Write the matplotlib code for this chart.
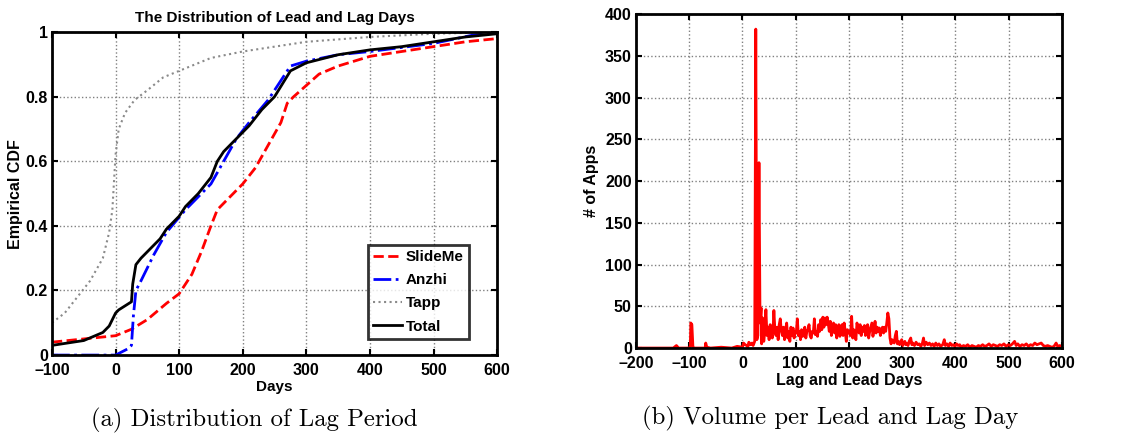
""" Lead / lag days: CDF per market and daily volume """

import numpy as np
import matplotlib.pyplot as plt

plt.rcParams['font.family'] = ['Liberation Sans', 'DejaVu Sans']
plt.rcParams['font.weight'] = 'bold'
plt.rcParams['axes.labelweight'] = 'bold'


##############################################################################
##                                   Data                                   ##
##############################################################################

# Empirical CDF per market (days, cdf)
slideme_x = [-100, -50, 0, 25, 50, 80, 100, 120, 135, 150, 160, 180, 200, 220,
             240, 260, 270, 280, 300, 320, 350, 400, 450, 500, 550, 600]
slideme_y = [0.04, 0.05, 0.06, 0.08, 0.11, 0.16, 0.19, 0.25, 0.32, 0.40, 0.45,
             0.49, 0.53, 0.58, 0.65, 0.72, 0.78, 0.80, 0.835, 0.87, 0.895,
             0.925, 0.94, 0.955, 0.97, 0.98]

anzhi_x = [-100, 0, 20, 25, 28, 32, 40, 60, 80, 110, 150, 170, 190, 210, 240,
           260, 275, 300, 350, 400, 500, 560, 600]
anzhi_y = [0.0, 0.0, 0.02, 0.03, 0.12, 0.20, 0.23, 0.31, 0.38, 0.45, 0.53,
           0.60, 0.67, 0.72, 0.79, 0.85, 0.895, 0.91, 0.93, 0.94, 0.965,
           0.99, 1.0]

tapp_x = [-100, -80, -60, -40, -20, -10, -5, 0, 5, 15, 30, 50, 75, 100, 150,
          200, 250, 300, 400, 500, 600]
tapp_y = [0.10, 0.13, 0.18, 0.23, 0.30, 0.38, 0.45, 0.62, 0.70, 0.75, 0.79,
          0.82, 0.86, 0.88, 0.92, 0.94, 0.955, 0.97, 0.985, 0.995, 1.0]

total_x = [-100, -50, -20, -10, 0, 5, 25, 27, 32, 40, 50, 70, 80, 100, 110,
           130, 150, 160, 170, 190, 210, 230, 250, 275, 300, 350, 400, 450,
           500, 550, 600]
total_y = [0.03, 0.045, 0.07, 0.09, 0.13, 0.14, 0.165, 0.22, 0.28, 0.30, 0.32,
           0.36, 0.39, 0.43, 0.46, 0.50, 0.55, 0.60, 0.63, 0.67, 0.71, 0.76,
           0.80, 0.88, 0.905, 0.93, 0.945, 0.955, 0.97, 0.985, 0.995]

# Number of apps per lag/lead day
vol_days = [-200, -130, -124, -120, -100, -98, -97, -95, -93, -90, -70, -69,
            -67, -60, -40, -20, -10, 0, 2, 5, 8, 10, 12, 15, 18, 20, 23, 25,
            27, 29, 31, 33, 35, 36, 38, 40, 42, 44, 46, 48, 50, 52, 54, 56,
            58, 59, 61, 63, 65, 67, 69, 71, 73, 75, 77, 79, 81, 83, 85, 87,
            89, 91, 93, 95, 97, 99, 101, 103, 105, 107, 109, 111, 113, 115,
            117, 119, 121, 123, 125, 127, 129, 131, 133, 135, 137, 139, 141,
            143, 145, 147, 149, 151, 153, 155, 157, 159, 161, 163, 165, 167,
            169, 171, 173, 175, 177, 179, 181, 183, 185, 187, 189, 191, 193,
            195, 197, 199, 201, 203, 205, 207, 209, 211, 213, 215, 217, 219,
            221, 223, 225, 227, 229, 231, 233, 235, 237, 239, 241, 243, 245,
            247, 249, 251, 253, 255, 257, 259, 261, 263, 265, 267, 269, 271,
            273, 275, 277, 279, 281, 283, 285, 287, 289, 291, 293, 295, 297,
            299, 301, 303, 305, 307, 309, 311, 313, 316, 318, 320, 323, 326,
            329, 332, 335, 338, 340, 342, 345, 348, 351, 354, 357, 360, 363,
            366, 369, 372, 376, 379, 381, 384, 387, 390, 393, 396, 399, 402,
            405, 408, 411, 415, 419, 423, 427, 431, 435, 439, 443, 447, 451,
            455, 459, 463, 467, 471, 475, 479, 483, 487, 491, 495, 499, 503,
            507, 511, 514, 517, 521, 525, 529, 533, 537, 541, 545, 549, 553,
            557, 561, 565, 569, 573, 577, 581, 585, 589, 592, 596, 600]
vol_apps = [0, 0, 3, 0, 0, 2, 30, 28, 1, 0, 0, 6,
            1, 0, 1, 0, 2, 1, 6, 4, 3, 1, 7, 4, 6, 3, 8, 382,
            10, 15, 222, 30, 48, 5, 36, 8, 20, 46, 15, 25, 10, 28, 18, 12,
            30, 45, 20, 15, 25, 10, 28, 35, 20, 15, 25, 10, 22, 30, 12, 20,
            8, 25, 15, 24, 12, 20, 18, 35, 15, 20, 10, 22, 14, 18,
            25, 12, 20, 22, 28, 15, 12, 20, 18, 35, 16, 20, 14,
            28, 20, 34, 22, 37, 25, 36, 28, 37, 30, 20, 32, 15,
            25, 30, 18, 28, 12, 22, 28, 14, 25, 28, 15, 30, 20,
            8, 22, 18, 20, 15, 38, 12, 22, 18, 10, 30, 25, 18,
            28, 15, 25, 20, 27, 15, 22, 28, 12, 20, 25, 30, 14,
            22, 32, 18, 25, 20, 24, 15, 22, 25, 18, 25, 20, 30,
            42, 35, 12, 5, 10, 8, 6, 15, 20, 5, 8, 4, 7,
            10, 3, 6, 8, 4, 5, 3, 8, 12, 4, 6, 3, 7,
            4, 5, 2, 6, 12, 3, 7, 4, 6, 3, 5, 2, 6,
            3, 5, 2, 4, 10, 3, 5, 2, 6, 3, 4, 2, 5,
            3, 4, 1, 3, 2, 4, 1, 3, 2, 1, 3, 2, 4,
            2, 3, 5, 2, 4, 3, 2, 4, 3, 5, 2, 4, 3,
            5, 8, 3, 5, 2, 4, 3, 5, 2, 4, 3, 6, 4,
            5, 6, 3, 2, 3, 2, 1, 2, 6, 2, 3, 1]

##############################################################################



##############################################################################
##                                  Figure                                  ##
##############################################################################

def style_axis(axis):
    """ MATLAB-like look: dotted grid, inward ticks on all sides, thick box """
    axis.grid(True, linestyle=':', color='#808080', linewidth=1.0)
    axis.tick_params(direction='in', top=True, right=True, length=4,
                     width=1.5, labelsize=11.5, pad=3)
    axis.tick_params(axis='x', pad=6)
    for spine in axis.spines.values():
        spine.set_linewidth(2.0)
    for label in axis.get_xticklabels() + axis.get_yticklabels():
        label.set_fontweight('bold')

fig = plt.figure(figsize=(11.27, 4.40), dpi=100)
ax_cdf = fig.add_axes([0.0461, 0.193, 0.395, 0.734])
ax_vol = fig.add_axes([0.5643, 0.209, 0.378, 0.759])

# (a) Empirical CDF
ax_cdf.plot(slideme_x, slideme_y, color='#ff0000', linestyle='--',
            linewidth=2, label='SlideMe')
ax_cdf.plot(anzhi_x, anzhi_y, color='#0000ff', linestyle='-.',
            linewidth=2, label='Anzhi')
ax_cdf.plot(tapp_x, tapp_y, color='#8a8a8a', linestyle=':',
            linewidth=1.5, label='Tapp')
ax_cdf.plot(total_x, total_y, color='black', linestyle='-',
            linewidth=2, label='Total')
ax_cdf.set_xlim(-100, 600)
ax_cdf.set_ylim(0, 1)
ax_cdf.set_xticks(np.arange(-100, 601, 100))
ax_cdf.set_yticks(np.arange(0, 1.01, 0.2))
ax_cdf.set_yticklabels(['0', '0.2', '0.4', '0.6', '0.8', '1'])
ax_cdf.set_title("The Distribution of Lead and Lag Days", size=11,
                 weight='bold', pad=7)
ax_cdf.set_xlabel("Days", size=11, labelpad=1)
ax_cdf.set_ylabel("Empirical CDF", size=11.5, labelpad=2)
style_axis(ax_cdf)
leg = ax_cdf.legend(loc='lower right', bbox_to_anchor=(0.937, 0.05),
                    fancybox=False, edgecolor='black', handlelength=1.9,
                    borderpad=0.35, labelspacing=0.6, handletextpad=0.25,
                    borderaxespad=0.0, prop={'weight': 'bold', 'size': 11})
leg.get_frame().set_linewidth(2.0)

# (b) Daily volume
ax_vol.plot(vol_days, vol_apps, color='#ff0000', linewidth=2)
ax_vol.set_xlim(-200, 600)
ax_vol.set_ylim(0, 400)
ax_vol.set_xticks(np.arange(-200, 601, 100))
ax_vol.set_yticks(np.arange(0, 401, 50))
ax_vol.set_xlabel("Lag and Lead Days", size=11.5, labelpad=1)
ax_vol.set_ylabel("# of Apps", size=11.5, labelpad=4)
style_axis(ax_vol)

# Minus signs as en-dashes like the original
for axis in (ax_cdf, ax_vol):
    axis.set_xticklabels([f"{int(t)}".replace('-', '\u2013')
                          for t in axis.get_xticks()], weight='bold')

# Sub-captions
fig.text(0.2254, 0.045, "(a) Distribution of Lag Period", ha='center',
         va='center', family='cmr10', size=17.8, weight='normal')
fig.text(0.7365, 0.05, "(b) Volume per Lead and Lag Day", ha='center',
         va='center', family='cmr10', size=17.8, weight='normal')

plt.savefig("out.png", dpi=100)

##############################################################################
